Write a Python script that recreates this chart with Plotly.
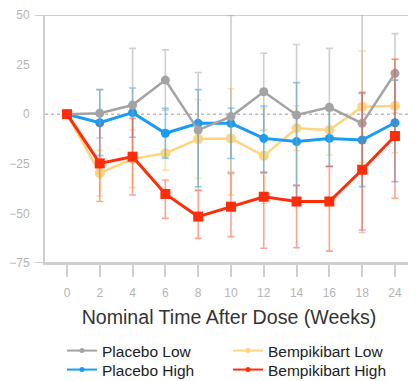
import plotly.graph_objects as go

weeks = ["0", "2", "4", "6", "8", "10", "12", "14", "16", "18", "24"]

placebo_low = [0, 0.5, 4.6, 17.2, -8, -1.2, 11.3, -0.4, 3.5, -4.6, 20.6]
placebo_low_plus = [0, 12, 28.6, 15.2, 29, 51, 19.4, 35.5, 29.7, 55, 20]
placebo_low_minus = [0, 12.5, 28.6, 15.2, 30, 28, 19.4, 35.3, 29.7, 55, 20]

placebo_high = [0, -4.3, 0.8, -9.6, -4.6, -4.6, -12.2, -13.8, -12.2, -13, -4.3]
placebo_high_plus = [0, 16.6, 12.4, 12.6, 17, 7.6, 16.3, 29.7, 14, 23.5, 21.5]
placebo_high_minus = [0, 16.6, 12.4, 12.6, 32, 17.7, 17, 29.7, 14, 23.5, 29.7]

bempi_low = [0, -29.7, -22.5, -19.7, -12.5, -12.2, -21, -7.1, -8, 3.8, 4.1]
bempi_low_plus = [0, 11.5, 14.5, 8.5, 19.8, 25, 24, 11.2, 12.6, 28, 23.6]
bempi_low_minus = [0, 11.5, 14.5, 8.5, 19.8, 28.5, 24, 11.2, 12.6, 28, 23.6]

bempi_high = [0, -24.8, -21.4, -40.2, -51.6, -46.6, -41.6, -44, -44, -28, -11]
bempi_high_plus = [0, 19.2, 19.3, 7, 13, 16.7, 12, 8, 17.5, 39, 38.7]
bempi_high_minus = [0, 19.2, 19.3, 12.3, 11, 15.1, 26, 23.3, 25, 30.4, 31.4]

FONT = "Liberation Sans, Arial, sans-serif"
AXIS_COLOR = "#cfcfcf"

# the page body keeps an 8px margin, so the figure is 8px smaller than the window
W, H = 408, 373


def series(name, y, plus, minus, color, err_color, symbol, size, lw):
    return go.Scatter(
        x=weeks, y=y, name=name, mode="lines+markers",
        line=dict(color=color, width=lw),
        marker=dict(color=color, symbol=symbol, size=size),
        error_y=dict(type="data", symmetric=False, array=plus, arrayminus=minus,
                     color=err_color, thickness=1.6, width=3.5),
        showlegend=False, cliponaxis=True,
    )


def legend_entry(name, color, legend):
    return go.Scatter(
        x=[None], y=[None], name=name, mode="lines+markers",
        line=dict(color=color, width=2), marker=dict(color=color, size=5),
        legend=legend, showlegend=True,
    )


fig = go.Figure()
fig.add_trace(series("Bempikibart Low", bempi_low, bempi_low_plus, bempi_low_minus,
                     "#ffd47e", "rgba(255,205,110,0.6)", "circle", 10, 2.5))
fig.add_trace(series("Placebo High", placebo_high, placebo_high_plus, placebo_high_minus,
                     "#1b9bf2", "rgba(30,160,245,0.55)", "circle", 9, 3))
fig.add_trace(series("Placebo Low", placebo_low, placebo_low_plus, placebo_low_minus,
                     "#a3a3a3", "rgba(160,160,160,0.5)", "circle", 9, 2.5))
fig.add_trace(series("Bempikibart High", bempi_high, bempi_high_plus, bempi_high_minus,
                     "#ff2d0a", "rgba(255,70,40,0.5)", "square", 10, 3))

fig.add_trace(legend_entry("Placebo Low", "#a3a3a3", "legend"))
fig.add_trace(legend_entry("Placebo High", "#1b9bf2", "legend2"))
fig.add_trace(legend_entry("Bempikibart Low", "#ffd47e", "legend3"))
fig.add_trace(legend_entry("Bempikibart High", "#ff2d0a", "legend4"))

# dotted reference line at zero and frame lines
fig.add_shape(type="line", xref="paper", x0=0, x1=1, yref="y", y0=0, y1=0,
              line=dict(color="#bbbbbb", width=1.5, dash="dot"), layer="below")
for yv in (50, -75):
    fig.add_shape(type="line", xref="paper", x0=-0.028, x1=1, yref="y", y0=yv, y1=yv,
                  line=dict(color=AXIS_COLOR, width=2), layer="below")

legend_common = dict(
    orientation="v", xref="container", yref="container",
    xanchor="left", yanchor="top",
    font=dict(size=15.5, color="#222222"),
    itemsizing="trace", tracegroupgap=0,
    bgcolor="rgba(0,0,0,0)", itemwidth=30,
)

fig.update_layout(
    width=W, height=H,
    margin=dict(l=37, r=3, t=7, b=118, autoexpand=False),
    paper_bgcolor="white", plot_bgcolor="white",
    font=dict(family=FONT, color="#333333"),
    showlegend=True,
    legend=dict(x=54 / W, y=1 - 326 / H, **legend_common),
    legend2=dict(x=54 / W, y=1 - 345 / H, **legend_common),
    legend3=dict(x=220 / W, y=1 - 326 / H, **legend_common),
    legend4=dict(x=220 / W, y=1 - 345 / H, **legend_common),
    xaxis=dict(
        type="category", range=[-0.67, 10.55],
        showline=True, linecolor=AXIS_COLOR, linewidth=2,
        ticks="outside", ticklen=12, tickwidth=1.5, tickcolor=AXIS_COLOR,
        ticklabelstandoff=6,
        tickfont=dict(size=12, color="#b5b5b5"),
        showgrid=False, zeroline=False,
        title=dict(text="Nominal Time After Dose (Weeks)",
                   font=dict(size=19.6, color="#333333"), standoff=11),
    ),
    yaxis=dict(
        range=[-75, 50], tickvals=[50, 25, 0, -25, -50, -75],
        showline=True, linecolor=AXIS_COLOR, linewidth=2,
        ticks="", ticklabelstandoff=11,
        tickfont=dict(size=12, color="#b5b5b5"),
        showgrid=False, zeroline=False,
    ),
)

fig.write_html("out.html")
